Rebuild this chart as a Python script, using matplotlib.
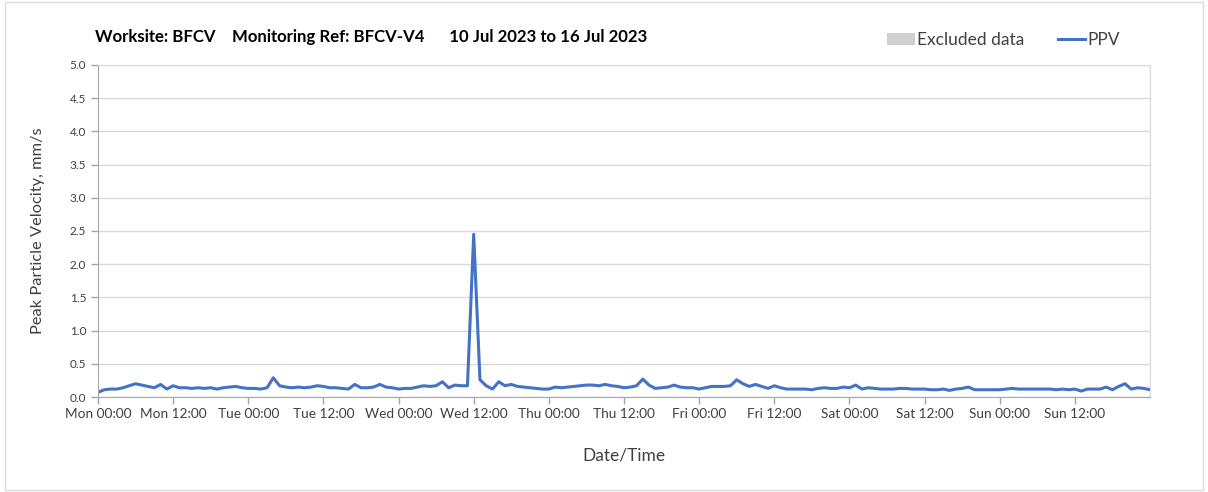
import matplotlib
matplotlib.use("Agg")
import matplotlib.pyplot as plt
from matplotlib.lines import Line2D
from matplotlib.patches import Patch, Rectangle

# hourly PPV readings, Mon 00:00 .. Sun 24:00 (mm/s)
ppv = [
    0.07, 0.11, 0.12, 0.12, 0.14, 0.17, 0.20, 0.18, 0.16, 0.14, 0.19, 0.12,
    0.17, 0.14, 0.14, 0.13, 0.14, 0.13, 0.14, 0.12, 0.14, 0.15, 0.16, 0.14,
    0.13, 0.13, 0.12, 0.14, 0.29, 0.17, 0.15, 0.14, 0.15, 0.14, 0.15, 0.17,
    0.16, 0.14, 0.14, 0.13, 0.12, 0.19, 0.14, 0.14, 0.15, 0.19, 0.15, 0.14,
    0.12, 0.13, 0.13, 0.15, 0.17, 0.16, 0.17, 0.23, 0.14, 0.18, 0.17, 0.17,
    2.45, 0.26, 0.17, 0.12, 0.23, 0.17, 0.19, 0.16, 0.15, 0.14, 0.13, 0.12,
    0.12, 0.15, 0.14, 0.15, 0.16, 0.17, 0.18, 0.18, 0.17, 0.19, 0.17, 0.16,
    0.14, 0.15, 0.17, 0.27, 0.18, 0.13, 0.14, 0.15, 0.18, 0.15, 0.14, 0.14,
    0.12, 0.14, 0.16, 0.16, 0.16, 0.17, 0.26, 0.20, 0.16, 0.19, 0.16, 0.13,
    0.17, 0.14, 0.12, 0.12, 0.12, 0.12, 0.11, 0.13, 0.14, 0.13, 0.13, 0.15,
    0.14, 0.18, 0.12, 0.14, 0.13, 0.12, 0.12, 0.12, 0.13, 0.13, 0.12, 0.12,
    0.12, 0.11, 0.11, 0.12, 0.10, 0.12, 0.13, 0.15, 0.11, 0.11, 0.11, 0.11,
    0.11, 0.12, 0.13, 0.12, 0.12, 0.12, 0.12, 0.12, 0.12, 0.11, 0.12, 0.11,
    0.12, 0.09, 0.12, 0.12, 0.12, 0.15, 0.11, 0.16, 0.20, 0.12, 0.14, 0.13,
    0.11,
]
hours = list(range(len(ppv)))

days = ["Mon", "Tue", "Wed", "Thu", "Fri", "Sat", "Sun"]
tick_hours = list(range(0, 168, 12))
tick_labels = [f"{days[h // 24]} {h % 24:02d}:00" for h in tick_hours]
y_ticks = [0.0, 0.5, 1.0, 1.5, 2.0, 2.5, 3.0, 3.5, 4.0, 4.5, 5.0]

title = "Worksite: BFCV    Monitoring Ref: BFCV-V4      10 Jul 2023 to 16 Jul 2023"

plt.rcParams["font.family"] = ["Lato", "DejaVu Sans"]
text_col = "#404040"
grid_col = "#d9d9d9"
line_col = "#4472c4"

fig = plt.figure(figsize=(12.08, 4.92), dpi=100)
fig.patches.append(Rectangle((0.004, 0.004), 0.992, 0.992, transform=fig.transFigure,
                             fill=False, edgecolor="#dddddd", linewidth=1))
ax = fig.add_axes([0.0811, 0.193, 0.8709, 0.675])

ax.plot(hours, ppv, color=line_col, linewidth=2.2, solid_joinstyle="round")

ax.set_xlim(0, 168)
ax.set_ylim(0, 5)
ax.set_yticks(y_ticks)
ax.set_yticklabels([f"{v:.1f}" for v in y_ticks])
ax.set_xticks(tick_hours)
ax.set_xticklabels(tick_labels)
ax.set_xticks(list(range(0, 169, 24)), minor=True)

ax.tick_params(axis="both", which="major", direction="out", length=5, width=1,
               color="#a6a6a6", labelcolor=text_col, labelsize=8.5)
ax.tick_params(axis="x", which="major", labelsize=9.8, pad=3)
ax.tick_params(axis="x", which="minor", length=0)

ax.grid(axis="y", which="major", color=grid_col, linewidth=1)
ax.grid(axis="x", which="minor", color=grid_col, linewidth=1)
ax.set_axisbelow(True)

for side in ["left", "bottom"]:
    ax.spines[side].set_color("#a6a6a6")
ax.spines["right"].set_color(grid_col)
ax.spines["top"].set_color(grid_col)

ax.set_ylabel("Peak Particle Velocity, mm/s", fontsize=11.8, color=text_col, labelpad=18)
ax.set_xlabel("Date/Time", fontsize=12.5, color=text_col, labelpad=20)

fig.text(0.079, 0.925, title, fontsize=12.1, fontweight="bold", color="black", va="center")

handles = [Patch(facecolor="#d0d0d0", edgecolor="none"),
           Line2D([0], [0], color=line_col, linewidth=2.2)]
fig.legend(handles, ["Excluded data", "PPV"], ncol=2, frameon=False,
           loc="center left", bbox_to_anchor=(0.7214, 0.918), fontsize=12.5,
           labelcolor=text_col, handlelength=1.6, handletextpad=0.1, columnspacing=1.95)

fig.savefig("out.png", dpi=100, facecolor="white")
